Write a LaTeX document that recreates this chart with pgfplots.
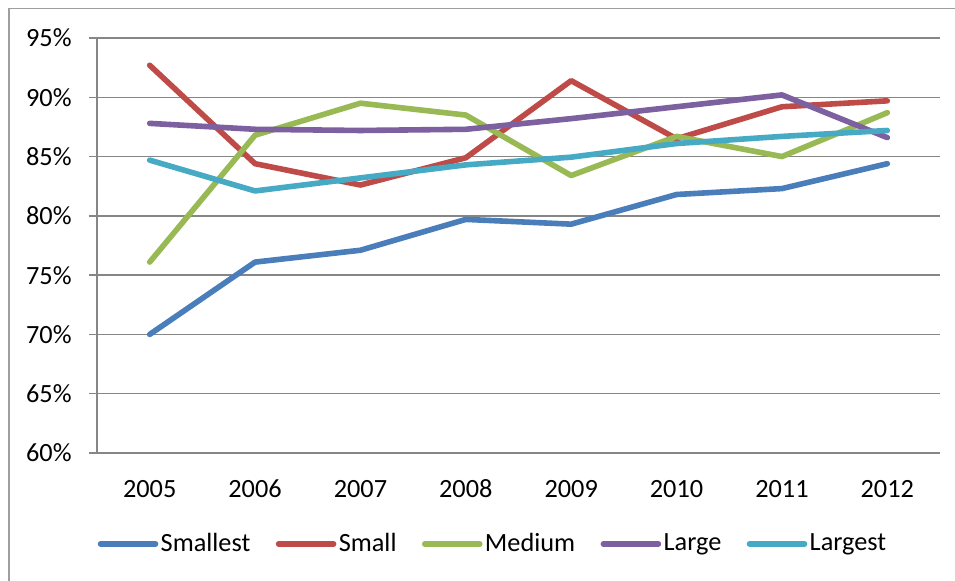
\documentclass[border=0pt]{standalone}
\usepackage{pgfplots}
\pgfplotsset{compat=1.18}
\usepackage{fontspec}
\setmainfont{Carlito}
\definecolor{cSmallest}{HTML}{4A7EBB}
\definecolor{cSmall}{HTML}{BE4B48}
\definecolor{cMedium}{HTML}{98B954}
\definecolor{cLarge}{HTML}{7D60A0}
\definecolor{cLargest}{HTML}{46AAC5}
\definecolor{gridgray}{HTML}{868686}
\begin{document}
\fontsize{13.2}{15.8}\selectfont
\begin{tikzpicture}
\draw[color=gridgray!80, line width=0.75bp] (4.5bp,-5bp) -- (4.5bp,286.25bp) -- (485bp,286.25bp);
\begin{axis}[
  at={(48.5bp,64bp)}, anchor=south west,
  scale only axis, width=421.5bp, height=207.5bp,
  xmin=-0.5, xmax=7.5, ymin=60, ymax=95,
  axis x line*=bottom, axis y line*=left,
  axis line style={draw=gridgray, line width=0.75bp, -},
  xtick={0,...,7},
  xticklabels={2005,2006,2007,2008,2009,2010,2011,2012},
  x tick style={draw=none},
  extra x ticks={-0.5,0.5,1.5,2.5,3.5,4.5,5.5,6.5,7.5},
  extra x tick labels={},
  extra x tick style={tick style={draw=gridgray, line width=0.75bp}, major tick length=4bp, tick align=outside},
  ytick={60,65,70,75,80,85,90,95},
  yticklabels={60\%,65\%,70\%,75\%,80\%,85\%,90\%,95\%},
  y tick style={draw=gridgray, line width=0.75bp},
  major tick length=4bp, tick align=outside,
  ymajorgrids, grid style={draw=gridgray, line width=0.75bp},
  yticklabel style={anchor=east, inner sep=0pt, xshift=-12.5bp+4bp},
  xticklabel style={anchor=base, inner sep=0pt, yshift=-18.35bp},
  legend columns=5,
  legend style={draw=none, fill=none, at={(0.470,-0.219)}, anchor=center,
    /tikz/every even column/.append style={column sep=11.5bp},
    nodes={inner xsep=1.2bp, inner ysep=0pt}},
  legend image code/.code={\draw[#1] (0bp,0bp) -- (27.5bp,0bp);},
  every axis plot/.append style={line width=2.8bp, line cap=round, line join=round},
]
\addplot[cSmallest] coordinates {(0,70.0) (1,76.1) (2,77.1) (3,79.7) (4,79.3) (5,81.8) (6,82.3) (7,84.4)};
\addlegendentry{Smallest}
\addplot[cSmall] coordinates {(0,92.7) (1,84.4) (2,82.6) (3,84.9) (4,91.4) (5,86.5) (6,89.2) (7,89.7)};
\addlegendentry{Small}
\addplot[cMedium] coordinates {(0,76.1) (1,86.8) (2,89.5) (3,88.5) (4,83.4) (5,86.7) (6,85.0) (7,88.7)};
\addlegendentry{Medium}
\addplot[cLarge] coordinates {(0,87.8) (1,87.3) (2,87.2) (3,87.3) (4,88.2) (5,89.2) (6,90.2) (7,86.6)};
\addlegendentry{Large}
\addplot[cLargest] coordinates {(0,84.7) (1,82.1) (2,83.2) (3,84.3) (4,84.95) (5,86.1) (6,86.7) (7,87.2)};
\addlegendentry{Largest}
\end{axis}
\pgfresetboundingbox
\path[use as bounding box] (0bp,0bp) rectangle (477.5bp,290.5bp);
\end{tikzpicture}
\end{document}
